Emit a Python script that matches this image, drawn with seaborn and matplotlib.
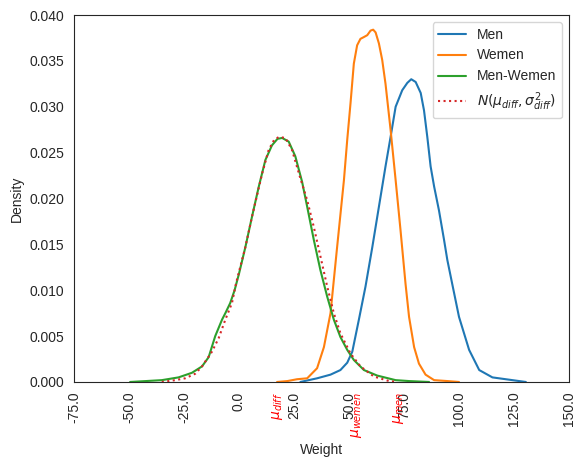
import matplotlib
matplotlib.use('Agg')
import matplotlib.pyplot as plt
import seaborn as sns

# density curves
men_x = [27.9, 35.5, 41.6, 46.1, 49.2, 51.5, 54.5, 57.5, 60.6, 63.6, 66.6, 68.9, 71.2, 74.2,
         76.5, 78.3, 80.3, 82.6, 84.1, 85.6, 87.1, 88.7, 90.9, 93.2, 94.7, 97.0, 100.0,
         104.6, 109.2, 115.2, 124.3, 130.4]
men_y = [0.0, 0.0004, 0.0008, 0.0013, 0.0021, 0.0033, 0.0068, 0.0104, 0.0147, 0.0191, 0.0235,
         0.0267, 0.0300, 0.0318, 0.0326, 0.0330, 0.0327, 0.0315, 0.0296, 0.0267, 0.0235,
         0.0213, 0.0187, 0.0155, 0.0133, 0.0106, 0.0071, 0.0035, 0.0013, 0.0005, 0.0002, 0.0]

wemen_x = [17.3, 22.0, 26.4, 31.0, 35.5, 38.6, 41.6, 44.6, 47.7, 49.2, 50.7, 52.2, 53.7,
           55.2, 56.8, 58.3, 59.8, 61.0, 62.1, 63.6, 65.1, 66.6, 68.9, 71.2, 73.4, 75.7,
           77.3, 79.6, 81.8, 84.8, 88.7, 94.7, 100.0]
wemen_y = [0.0, 0.0001, 0.0003, 0.0004, 0.0015, 0.0038, 0.0075, 0.0147, 0.0220, 0.0264, 0.0304,
           0.0347, 0.0367, 0.0374, 0.0376, 0.0378, 0.0383, 0.0384, 0.0381, 0.0369, 0.0351,
           0.0325, 0.0275, 0.0220, 0.0166, 0.0107, 0.0071, 0.0038, 0.0020, 0.0008, 0.0002,
           0.0001, 0.0]

diff_x = [-49.5, -35.1, -27.5, -21.4, -16.8, -13.8, -10.8, -7.7, -6.2, -4.0, -2.0, 0.0, 2.9,
          5.9, 9.0, 12.0, 15.0, 17.5, 19.6, 22.6, 25.6, 28.7, 31.0, 34.0, 37.0, 40.1, 43.1,
          46.1, 49.2, 52.2, 56.8, 62.8, 71.2, 77.3, 86.4]
diff_y = [0.0, 0.0002, 0.0005, 0.0010, 0.0017, 0.0027, 0.0050, 0.0068, 0.0075, 0.0086, 0.0100,
          0.0118, 0.0147, 0.0180, 0.0213, 0.0242, 0.0258, 0.0265, 0.0266, 0.0262, 0.0246,
          0.0218, 0.0191, 0.0155, 0.0122, 0.0093, 0.0068, 0.0049, 0.0035, 0.0024, 0.0013,
          0.0007, 0.0002, 0.0001, 0.0]

norm_x = [-35.1, -29.0, -24.5, -19.9, -16.8, -12.3, -9.2, -6.2, -3.2, -1.3, 2.9, 5.9, 10.5,
          13.5, 16.0, 18.1, 21.1, 24.1, 27.9, 31.0, 34.0, 37.0, 40.1, 43.1, 46.1, 50.7,
          55.2, 61.3, 68.2, 72.0]
norm_y = [0.0, 0.0002, 0.0004, 0.0009, 0.0017, 0.0033, 0.0048, 0.0068, 0.0086, 0.0108, 0.0147,
          0.0180, 0.0227, 0.0253, 0.0264, 0.0267, 0.0266, 0.0253, 0.0222, 0.0198, 0.0169,
          0.0137, 0.0104, 0.0075, 0.0053, 0.0031, 0.0017, 0.0006, 0.0001, 0.0]

xticks = [-75, -50, -25, 0, 25, 50, 75, 100, 125, 150]
mu_ticks = [17.3, 53.3, 72.3]
mu_labels = [r'$\mu_{diff}$', r'$\mu_{wemen}$', r'$\mu_{men}$']
yticks = [0.0, 0.005, 0.01, 0.015, 0.02, 0.025, 0.03, 0.035, 0.04]


def main():
    sns.set_style('white')
    plt.rcParams['font.family'] = ['Liberation Sans', 'DejaVu Sans']
    fig = plt.figure(figsize=(5.84, 4.66), dpi=100)
    ax = fig.add_axes([0.1267, 0.1803, 0.8476, 0.7875])

    sns.lineplot(x=men_x, y=men_y, ax=ax, color='tab:blue', label='Men')
    sns.lineplot(x=wemen_x, y=wemen_y, ax=ax, color='tab:orange', label='Wemen')
    sns.lineplot(x=diff_x, y=diff_y, ax=ax, color='tab:green', label='Men-Wemen')
    sns.lineplot(x=norm_x, y=norm_y, ax=ax, color='tab:red', linestyle=':',
                 label=r'$N(\mu_{diff}, \sigma^2_{diff})$')

    ax.set_xlim(-75, 150)
    ax.set_ylim(0, 0.04)
    ax.set_xticks(xticks + mu_ticks)
    ax.set_xticklabels([f'{t:.1f}' for t in xticks] + mu_labels, rotation=90)
    for lab in ax.get_xticklabels()[len(xticks):]:
        lab.set_color('red')
    ax.set_yticks(yticks)
    ax.set_yticklabels([f'{t:.3f}' for t in yticks])
    ax.set_xlabel('Weight')
    ax.set_ylabel('Density')
    ax.legend(loc='upper right')

    fig.savefig('out.png', dpi=100)
    plt.close(fig)


if __name__ == '__main__':
    main()
